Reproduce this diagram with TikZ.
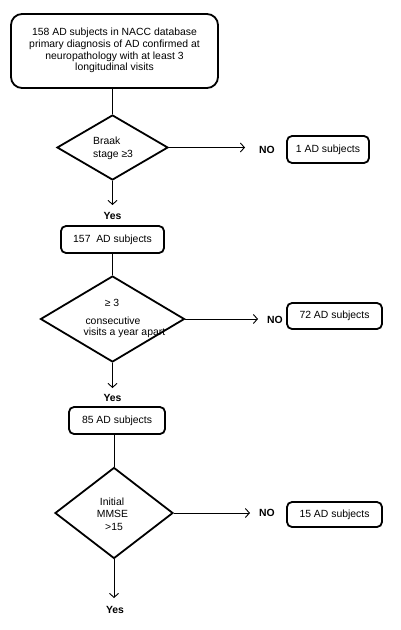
\documentclass[tikz,border=0pt]{standalone}
\usepackage{fontspec}
\setmainfont{Liberation Sans}
\usetikzlibrary{shapes.geometric,arrows.meta}
\begin{document}
\begin{tikzpicture}[x=1bp,y=-1bp,
 box/.style={draw,line width=1.8bp,rounded corners=5bp,inner sep=0},
 dia/.style={draw,diamond,line width=1.8bp,inner sep=0},
 conn/.style={line width=0.9bp},
 arr/.style={conn,-{Straight Barb[length=4bp,width=9bp]}},
 txt/.style={font=\fontsize{10.4bp}{11.8bp}\selectfont, inner sep=0},
 lbl/.style={font=\fontsize{10.4bp}{12bp}\selectfont\bfseries, inner sep=0}]
\useasboundingbox (0,0) rectangle (400,630);

% top box
\node[box,rounded corners=11bp,minimum width=207bp,minimum height=74bp] (start) at (114.5,51) {};
\node[txt,align=center] (starttext) at (114.5,50.5) {158 AD subjects in NACC database\\primary diagnosis of AD confirmed at\\neuropathology with at least 3\\longitudinal visits};

% diamond 1
\node[dia,minimum width=111bp,minimum height=65bp] (d1) at (112.5,147.5) {};
\node[txt,align=left,anchor=west,font=\fontsize{10.4bp}{13bp}\selectfont] (d1text) at (93,148.5) {Braak\\stage ≥3};
\node[box,minimum width=82bp,minimum height=27bp] (no1) at (328,149.5) {};
\node[txt] (no1text) at (no1) {1 AD subjects};
\coordinate (e1) at (245,147.5);
\node[lbl] (no1lbl) at (267,150) {NO};
\coordinate (s1) at (112.5,205);
\node[lbl] (yes1) at (112.5,216) {Yes};

% box 157
\node[box,minimum width=103bp,minimum height=27bp] (b2) at (112.5,239.5) {};
\node[txt] (b2text) at (b2) {157\ \ AD subjects};

% diamond 2
\node[dia,minimum width=144bp,minimum height=86bp] (d2) at (112.5,319) {};
\node[txt] (d2t1) at (112,303) {≥ 3};
\node[txt] (d2t2) at (113,321) {consecutive};
\node[txt,anchor=west] (d2t3) at (83.5,333) {visits a year apart};
\node[box,minimum width=95bp,minimum height=26bp] (no2) at (334.5,316) {};
\node[txt] (no2text) at (no2) {72 AD subjects};
\coordinate (e2) at (258,319);
\node[lbl] (no2lbl) at (275,320) {NO};
\coordinate (s2) at (112.5,388);
\node[lbl] (yes2) at (112.5,398) {Yes};

% box 85
\node[box,minimum width=96bp,minimum height=27bp] (b3) at (117,420.5) {};
\node[txt] (b3text) at (b3) {85 AD subjects};

% diamond 3
\node[dia,minimum width=118bp,minimum height=91bp] (d3) at (114,513) {};
\node[txt] (d3t1) at (112,502) {Initial};
\node[txt] (d3t2) at (112.5,514) {MMSE};
\node[txt] (d3t3) at (114,527) {>15};
\node[box,minimum width=95bp,minimum height=25bp] (no3) at (334.5,514.5) {};
\node[txt] (no3text) at (no3) {15 AD subjects};
\coordinate (e3) at (250,513);
\node[lbl] (no3lbl) at (267,513) {NO};
\coordinate (s3) at (114,598);
\node[lbl] (yes3) at (115,610) {Yes};

% connectors
\draw[conn] (d1.north |- start.south) -- (d1.north);
\draw[arr] (d1.east) -- (e1);
\draw[arr] (d1.south) -- (s1);
\draw[conn] (b2.south) -- (d2.north);
\draw[arr] (d2.east) -- (e2);
\draw[arr] (d2.south) -- (s2);
\draw[conn] (d3.north |- b3.south) -- (d3.north);
\draw[arr] (d3.east) -- (e3);
\draw[arr] (d3.south) -- (s3);
\end{tikzpicture}
\end{document}
